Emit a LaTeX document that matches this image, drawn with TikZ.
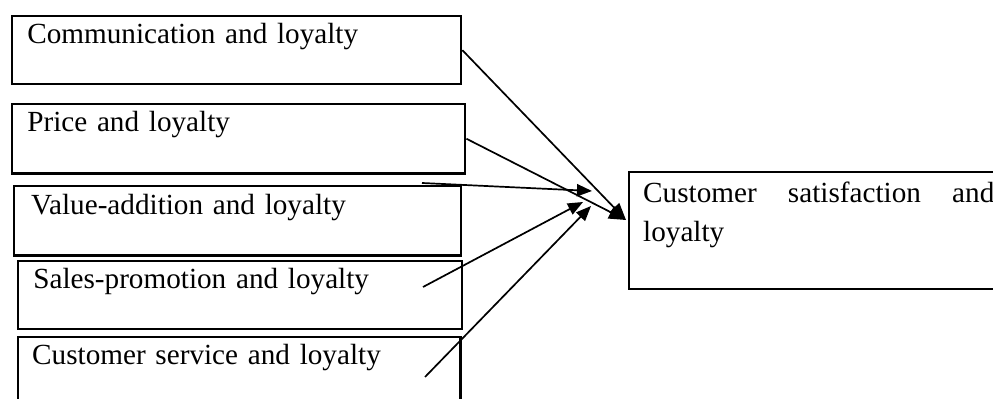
\documentclass[tikz,border=0pt]{standalone}
\usepackage{fontspec}
\setmainfont{Liberation Serif}
\usetikzlibrary{arrows.meta}

\begin{document}
\begin{tikzpicture}[x=0.411pt,y=-0.411pt,line width=0.7pt]
		\tikzstyle{factor}=[draw,line width=1pt,anchor=north west,align=left,inner ysep=0pt,inner xsep=6.2pt,text height=11.1pt,font=\fontsize{12}{14}\selectfont]
		\tikzstyle{link}=[-{Triangle[length=6.2pt,width=5pt]}]

		\clip (0,0) rectangle (993,399);

		\node[factor,text width=172.1pt,text depth=16.8pt](comm) at (11,15){Communication and loyalty};
		\node[factor,text width=173.8pt,text depth=17.3pt](price) at (11,103){Price and loyalty};
		\node[factor,text width=169.7pt,inner xsep=7pt,text height=11.5pt,text depth=16.9pt](value) at (13,185){Value-addition and loyalty};
		\node[factor,text width=170.1pt,text depth=16.8pt](sales) at (17,260){Sales-promotion and loyalty};
		\node[factor,text width=170.2pt,inner xsep=5.75pt,text depth=22pt](service) at (17,336){Customer service and loyalty};

		\node[factor,text width=144.3pt,inner xsep=5.75pt,text height=12.3pt,text depth=35.8pt,font=\fontsize{12}{16}\selectfont](satis) at (628,171){Customer \hfill satisfaction \hfill and\\loyalty};

		% loose ends of the arrows
		\coordinate (hub) at (626,220);
		\coordinate (va0) at (422,183);
		\coordinate (va1) at (592,191);
		\coordinate (sp0) at (423,287);
		\coordinate (sp1) at (583,202);
		\coordinate (cs0) at (425,377);
		\coordinate (cs1) at (591,206);

		\draw[-{Triangle[length=7pt,width=5.6pt]}] (comm.east) -- (hub);
		\draw[-{Triangle[length=7pt,width=5.6pt]}] (price.east) -- (hub);
		\draw[link] (va0) -- (va1);
		\draw[link] (sp0) -- (sp1);
		\draw[link] (cs0) -- (cs1);
	\end{tikzpicture}
\end{document}
